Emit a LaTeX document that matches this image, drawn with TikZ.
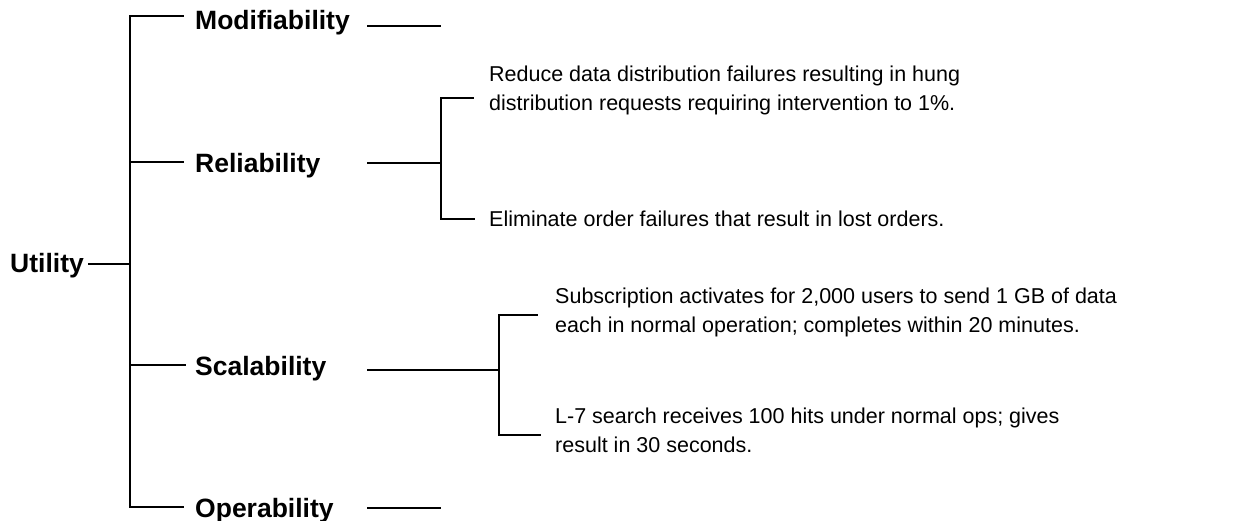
\documentclass[tikz,border=0pt]{standalone}
\usepackage{fontspec}
\setmainfont{Liberation Sans}
\begin{document}
\begin{tikzpicture}[x=1pt,y=-1pt,
  conn/.style={line width=2.2pt,line cap=rect},
  head/.style={anchor=west,inner sep=0pt,font=\fontsize{26.5}{30}\selectfont\bfseries},
  leaf/.style={anchor=west,inner sep=0pt,align=left,font=\fontsize{21.5}{29}\selectfont}]
\useasboundingbox (0,0) rectangle (1259,520);
% labels
\node[head] (utility) at (10,266) {Utility};
\node[head] (modif) at (195,23) {Modifiability};
\node[head] (relia) at (195,166) {Reliability};
\node[head] (scal) at (195,369) {Scalability};
\node[head] (oper) at (195,511) {Operability};
\node[leaf] (r1) at (489,90) {Reduce data distribution failures resulting in hung\\distribution requests requiring intervention to 1\%.};
\node[leaf] (r2) at (489,219) {Eliminate order failures that result in lost orders.};
\node[leaf] (s1) at (555,312) {Subscription activates for 2,000 users to send 1 GB of data\\each in normal operation; completes within 20 minutes.};
\node[leaf] (s2) at (555,430) {L-7 search receives 100 hits under normal ops; gives\\result in 30 seconds.};
% spine coordinates
\coordinate (sm) at (130,16);
\coordinate (sr) at (130,162);
\coordinate (su) at (130,264);
\coordinate (ss) at (130,365);
\coordinate (so) at (130,507);
\draw[conn] (sm) -- (so);
\draw[conn] ([xshift=5pt]utility.east |- su) -- (su);
\draw[conn] (sm) -- ([xshift=-12pt]sm -| modif.west);
\draw[conn] (sr) -- ([xshift=-12pt]sr -| relia.west);
\draw[conn] (ss) -- ([xshift=-10pt]ss -| scal.west);
\draw[conn] (so) -- ([xshift=-12pt]so -| oper.west);
% trailing lines
\coordinate (ma) at (368,26); \coordinate (mb) at (440,26);
\draw[conn] (ma) -- (mb);
\coordinate (oa) at (368,508); \coordinate (ob) at (440,508);
\draw[conn] (oa) -- (ob);
% reliability sub-bracket
\coordinate (ra) at (368,163); \coordinate (rm) at (441,163);
\coordinate (rt) at (441,98); \coordinate (rb) at (441,219);
\draw[conn] (ra) -- (rm);
\draw[conn] ([xshift=-16pt]rt -| r1.west) -- (rt) -- (rb) -- ([xshift=-15pt]rb -| r2.west);
% scalability sub-bracket
\coordinate (sa) at (368,370); \coordinate (smid) at (499,370);
\coordinate (st) at (499,315); \coordinate (sb) at (499,435);
\draw[conn] (sa) -- (smid);
\draw[conn] ([xshift=-18pt]st -| s1.west) -- (st) -- (sb) -- ([xshift=-15pt]sb -| s2.west);
\end{tikzpicture}
\end{document}
